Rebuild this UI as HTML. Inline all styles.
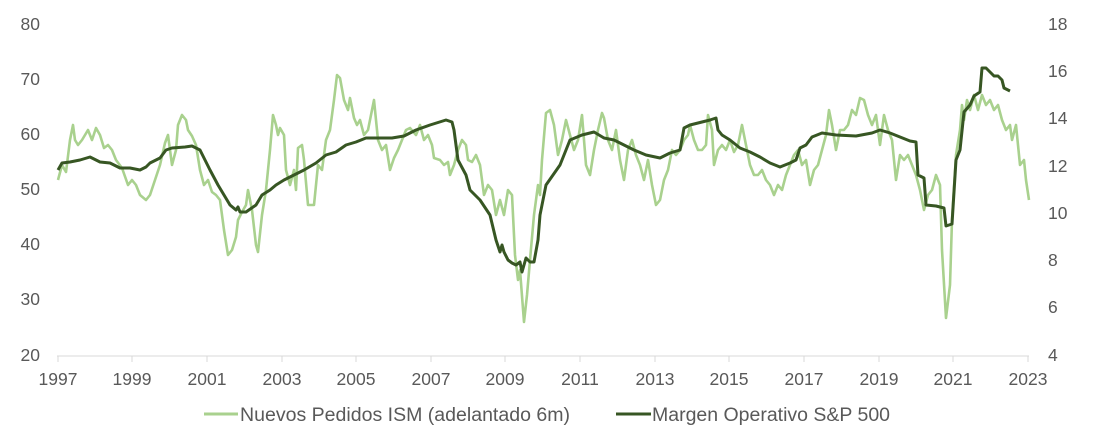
<!DOCTYPE html>
<html><head><meta charset="utf-8"><style>
body{margin:0;background:#fff;}
svg{display:block;font-family:"Liberation Sans",sans-serif;}
</style></head><body>
<svg width="1110" height="435" viewBox="0 0 1110 435">
<g fill="#595959" font-size="17.5">
<g text-anchor="end">
<text x="40" y="30">80</text><text x="40" y="85">70</text><text x="40" y="140">60</text><text x="40" y="195">50</text><text x="40" y="250">40</text><text x="40" y="305">30</text><text x="40" y="361">20</text>
</g>
<g text-anchor="start">
<text x="1048" y="30">18</text><text x="1048" y="77">16</text><text x="1048" y="124">14</text><text x="1048" y="172">12</text><text x="1048" y="219">10</text><text x="1048" y="266">8</text><text x="1048" y="313">6</text><text x="1048" y="361">4</text>
</g>
<g text-anchor="middle">
<text x="58" y="385">1997</text><text x="132" y="385">1999</text><text x="207" y="385">2001</text><text x="282" y="385">2003</text><text x="356" y="385">2005</text><text x="431" y="385">2007</text><text x="505" y="385">2009</text><text x="580" y="385">2011</text><text x="655" y="385">2013</text><text x="729" y="385">2015</text><text x="804" y="385">2017</text><text x="879" y="385">2019</text><text x="953" y="385">2021</text><text x="1028" y="385">2023</text>
</g>
</g>
<line x1="57" y1="356" x2="1029" y2="356" stroke="#d9d9d9" stroke-width="1"/>
<g stroke="#d9d9d9" stroke-width="1">
<line x1="58" y1="356" x2="58" y2="362"/><line x1="132" y1="356" x2="132" y2="362"/><line x1="207" y1="356" x2="207" y2="362"/><line x1="282" y1="356" x2="282" y2="362"/><line x1="356" y1="356" x2="356" y2="362"/><line x1="431" y1="356" x2="431" y2="362"/><line x1="505" y1="356" x2="505" y2="362"/><line x1="580" y1="356" x2="580" y2="362"/><line x1="655" y1="356" x2="655" y2="362"/><line x1="729" y1="356" x2="729" y2="362"/><line x1="804" y1="356" x2="804" y2="362"/><line x1="879" y1="356" x2="879" y2="362"/><line x1="953" y1="356" x2="953" y2="362"/><line x1="1028" y1="356" x2="1028" y2="362"/>
</g>
<polyline fill="none" stroke="#a9d18e" stroke-width="2.6" stroke-linejoin="round" points="58,180 62,165 66,172 70,140 73,125 75,140 78,145 82,140 88,130 92,140 96,128 100,135 104,148 108,145 112,150 116,160 122,168 128,185 132,180 136,185 140,195 146,200 150,195 155,180 160,165 165,143 168,135 172,165 176,150 178,125 182,115 186,120 188,130 192,136 196,145 200,170 204,185 208,180 212,192 216,195 220,200 224,230 228,255 232,250 236,237 238,220 242,212 246,205 248,190 252,210 256,245 258,252 262,215 266,190 270,150 273,115 276,125 278,135 280,128 284,135 286,170 290,185 294,170 296,190 298,148 302,145 304,160 308,205 314,205 318,165 322,170 326,140 330,130 334,100 337,75 340,78 344,100 348,110 350,98 354,118 357,125 360,120 364,135 368,130 374,100 378,140 382,150 386,145 390,170 394,158 398,150 402,140 406,130 410,128 416,135 420,125 424,140 428,135 432,145 434,158 440,160 444,165 448,162 450,175 454,165 458,150 462,140 466,145 468,160 472,162 476,155 480,165 484,195 488,185 492,190 496,215 500,200 504,215 508,190 512,195 515,255 518,280 520,270 524,322 527,295 530,260 534,215 538,185 540,195 542,160 546,113 550,110 554,125 558,155 562,140 566,120 570,135 574,150 578,140 582,115 586,165 590,175 594,150 598,130 602,113 604,118 608,140 612,150 616,130 620,160 624,180 628,150 632,140 636,155 640,165 644,180 648,160 652,185 656,205 660,200 664,180 668,170 672,150 676,155 680,150 684,140 688,135 690,125 694,140 698,150 702,150 706,145 708,115 712,130 714,165 718,150 722,145 726,150 730,140 734,152 738,145 742,125 746,145 750,165 754,175 758,175 762,170 766,180 770,185 774,195 778,185 782,190 786,175 790,165 794,155 798,150 802,165 806,160 810,185 814,170 818,165 822,150 826,135 829,110 832,125 836,150 840,130 844,130 848,125 852,110 856,115 860,98 864,100 868,115 872,125 874,120 876,115 880,145 884,115 888,130 892,140 896,180 900,155 904,160 908,155 912,165 916,175 920,190 924,210 928,195 932,190 936,175 940,185 942,250 946,318 950,285 952,220 956,155 960,130 962,105 964,120 967,100 970,110 974,95 978,110 982,95 986,105 990,100 994,110 998,105 1002,120 1006,130 1010,125 1012,140 1016,125 1018,145 1020,165 1024,160 1026,180 1029,200"/>
<polyline fill="none" stroke="#375623" stroke-width="3" stroke-linejoin="round" points="58,170 62,163 70,162 80,160 90,157 100,162 110,163 120,168 130,168 140,170 146,167 150,163 160,158 166,150 172,148 185,147 192,146 200,150 204,158 210,170 218,185 224,195 230,205 236,210 238,207 240,212 246,212 256,205 262,195 270,190 276,185 284,180 294,175 304,170 316,163 326,155 336,152 346,145 356,142 366,138 380,138 392,138 404,136 416,130 430,125 446,120 452,122 454,130 458,160 466,175 470,190 480,200 490,215 496,240 500,252 502,245 504,252 508,260 512,263 516,265 520,262 522,272 526,258 530,262 534,262 538,240 540,215 546,185 560,165 570,140 582,135 594,132 604,138 614,140 624,145 634,150 646,155 660,158 670,153 680,150 684,128 690,125 702,122 710,120 716,118 718,130 722,135 730,140 740,148 750,152 760,157 770,163 780,167 790,163 796,160 800,148 806,145 812,137 822,133 836,135 856,136 872,133 880,130 890,133 900,137 910,141 916,142 918,175 924,178 926,205 936,206 940,207 944,208 946,226 952,224 956,160 960,150 964,112 970,105 974,96 980,92 982,68 986,68 990,72 994,76 998,76 1002,80 1004,88 1010,91"/>
<line x1="204" y1="414" x2="238" y2="414" stroke="#a9d18e" stroke-width="3"/>
<text x="240" y="421" font-size="19" fill="#595959" textLength="330" lengthAdjust="spacingAndGlyphs">Nuevos Pedidos ISM (adelantado 6m)</text>
<line x1="616" y1="414" x2="651" y2="414" stroke="#375623" stroke-width="3"/>
<text x="652" y="421" font-size="19" fill="#595959" textLength="238" lengthAdjust="spacingAndGlyphs">Margen Operativo S&amp;P 500</text>
</svg>
</body></html>
